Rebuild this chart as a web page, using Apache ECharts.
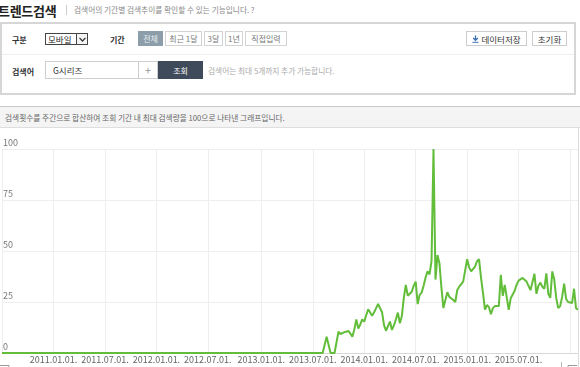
<!DOCTYPE html>
<html><head><meta charset="utf-8">
<script src="https://cdn.jsdelivr.net/npm/echarts@6/dist/echarts.min.js"></script>
<style>
html,body{margin:0;padding:0;width:580px;height:367px;overflow:hidden;background:#fff;font-family:"Noto Sans CJK KR","Noto Sans",sans-serif;}
.a{position:absolute;box-sizing:border-box;white-space:nowrap;}
.c{display:flex;align-items:center;justify-content:center;}
.l{display:flex;align-items:center;}
.lab{font-size:8px;font-weight:bold;color:#333;height:12px;}
.seg{top:31px;height:15px;border:1px solid #d3d3d3;background:#fff;font-size:8px;color:#777;}
.btn{top:31px;height:15px;border:1px solid #cdcdcd;background:#fff;font-size:8.5px;color:#333;}
</style></head><body>
<div class="a l" style="left:-2px;top:1px;height:18px;font-size:13px;font-weight:bold;color:#222;letter-spacing:-0.3px">트렌드검색</div>
<div class="a" style="left:66px;top:5px;width:1px;height:10px;background:#ccc"></div>
<div class="a l" style="left:74px;top:4px;height:11px;font-size:7.7px;color:#888">검색어의 기간별 검색추이를 확인할 수 있는 기능입니다. ?</div>

<div class="a" style="left:0;top:22px;width:576px;height:73px;border:2px solid #d6d6d6;background:#fff"></div>
<div class="a" style="left:2px;top:54px;width:572px;height:1px;background:#efefef"></div>

<div class="a l lab" style="left:12px;top:33px">구분</div>
<div class="a l" style="left:45px;top:33px;width:43px;height:12px;border:1px solid #444;font-size:8.5px;color:#222;padding-left:2px">모바일</div>
<div class="a c" style="left:76px;top:34px;width:11px;height:10px;border-left:1px solid #444;background:#f4f4f4"><svg width="7" height="5" viewBox="0 0 7 5"><polyline points="0.5,0.8 3.5,4 6.5,0.8" fill="none" stroke="#333" stroke-width="1.2"/></svg></div>
<div class="a l lab" style="left:110px;top:33px">기간</div>
<div class="a c seg" style="left:138px;width:25px;background:#8d9eab;border-color:#8d9eab;color:#e8eef3">전체</div>
<div class="a c seg" style="left:165px;width:37px">최근 1달</div>
<div class="a c seg" style="left:204px;width:19px">3달</div>
<div class="a c seg" style="left:225px;width:18px">1년</div>
<div class="a c seg" style="left:245px;width:42px">직접입력</div>
<div class="a c btn" style="left:466px;width:61px"><svg width="7" height="8" viewBox="0 0 7 8" style="margin-right:2px"><path d="M3.5 0.5 V5 M1.2 3 L3.5 5.3 L5.8 3" fill="none" stroke="#3b6fb0" stroke-width="1.3"/><path d="M0.5 7.3 H6.5" stroke="#3b6fb0" stroke-width="1"/></svg>데이터저장</div>
<div class="a c btn" style="left:532px;width:35px">초기화</div>

<div class="a l lab" style="left:12px;top:65px">검색어</div>
<div class="a l" style="left:45px;top:61px;width:94px;height:18px;border:1px solid #cfcfcf;font-size:8.5px;color:#333;padding-left:7px">G시리즈</div>
<div class="a c" style="left:138px;top:61px;width:20px;height:18px;border:1px solid #cfcfcf;font-size:11px;color:#999">+</div>
<div class="a c" style="left:158px;top:61px;width:45px;height:18px;background:#3f4a5a;font-size:8px;color:#fff">조회</div>
<div class="a l" style="left:208px;top:65px;height:11px;font-size:7.7px;color:#aaa">검색어는 최대 5개까지 추가 가능합니다.</div>

<div class="a l" style="left:0;top:106px;width:580px;height:22px;border-top:1px solid #c9c9c9;border-bottom:1px solid #dedede;background:#f4f4f4;font-size:7.7px;color:#666;padding-left:5px">검색횟수를 주간으로 합산하여 조회 기간 내 최대 검색량을 100으로 나타낸 그래프입니다.</div>

<div id="chart" class="a" style="left:0;top:128px;width:580px;height:239px"></div>
<div class="a" style="left:578px;top:128px;width:1px;height:239px;background:#dcdcdc"></div>

<script>
// first week (Monday) of the weekly series
const startWeek = '2010-06-28';
// x-axis tick labels shown under the chart
const tickLabels = ['2011.01.01.', '2011.07.01.', '2012.01.01.', '2012.07.01.', '2013.01.01.',
  '2013.07.01.', '2014.01.01.', '2014.07.01.', '2015.01.01.', '2015.07.01.'];
// y-axis ticks
const yTicks = [0, 25, 50, 75, 100];
// weekly relative search volume (G시리즈, mobile)
const searchValues = [
  0,0,0,0,0,0,0,0,0,0,0,0,0,0,0,0,0,0,0,0,0,0,0,0,0,0,
  0,0,0,0,0,0,0,0,0,0,0,0,0,0,0,0,0,0,0,0,0,0,0,0,0,0,
  0,0,0,0,0,0,0,0,0,0,0,0,0,0,0,0,0,0,0,0,0,0,0,0,0,0,
  0,0,0,0,0,0,0,0,0,0,0,0,0,0,0,0,0,0,0,0,0,0,0,0,0,0,
  0,0,0,0,0,0,0,0,0,0,0,0,0,0,0,0,0,0,0,0,0,0,0,0,0,0,
  0,0,0,0,0,0,0,0,0,0,0,0,0,0,0,0,0,0,0,0,0,0,0,0,0,0,
  0,0,0,0,0,0,0,0,
  8,8,0,0,0,0,10.5,9.3,9.8,10.2,10.5,10.8,9.5,8,11.5,16.5,12,14,16.5,15.4,
  18.5,21.4,20.6,18.3,20,22,24,23.5,20,13.7,10.9,11.3,15.4,11.3,13.5,16.5,19.8,14.6,18,27,
  33.4,28.1,28.5,30,33,35,24,28.5,29.6,33,37,40,38.5,45,100,36,48,44,32,22,
  26,29.8,27.5,27.6,26,25,30.9,32.5,32.8,35,35.5,46,42,40,39.5,42.4,45,46,37,29.5,
  21.3,23.5,22.5,19,22,23,22.7,23,38.3,28,33.4,33.8,21.1,26.8,26,30.5,33.5,35.5,35.5,36.8,
  36.3,35,34.5,30.8,30.6,38.8,29,33,34.5,32.5,31.5,39,29,27,40,36,27,22,23,27.6,
  34,26.5,25,24.4,24.5,31.5,22,21.2
];

const DAY = 86400000;
const t0 = Date.parse(startWeek + 'T00:00:00Z');
const weeks = searchValues.map((_, i) => new Date(t0 + i * 7 * DAY).toISOString().slice(0, 10));

// label of the half-year start (Jan 1 / Jul 1) contained in a week, or null
function halfYearLabel(week) {
  const t = Date.parse(week + 'T00:00:00Z');
  for (let k = 0; k < 7; k++) {
    const d = new Date(t + k * DAY);
    const m = d.getUTCMonth();
    if (d.getUTCDate() === 1 && (m === 0 || m === 6)) {
      return d.getUTCFullYear() + '.' + String(m + 1).padStart(2, '0') + '.01.';
    }
  }
  return null;
}

const chart = echarts.init(document.getElementById('chart'), null, { renderer: 'canvas' });
chart.setOption({
  animation: false,
  textStyle: { fontFamily: '"Noto Sans CJK KR", "Noto Sans", sans-serif' },
  grid: { left: 0, right: 2, top: 21, bottom: 14, containLabel: false },
  xAxis: {
    type: 'category',
    data: weeks,
    boundaryGap: false,
    axisLine: { show: true, lineStyle: { color: '#d8d8d8', width: 1 } },
    axisTick: { show: false },
    axisLabel: {
      interval: (i, v) => tickLabels.indexOf(halfYearLabel(v)) >= 0,
      formatter: v => halfYearLabel(v) || '',
      fontSize: 9, color: '#666', margin: 2
    },
    splitLine: {
      show: true,
      interval: (i, v) => halfYearLabel(v) !== null,
      lineStyle: { color: '#eeeeee', width: 1 }
    }
  },
  yAxis: {
    type: 'value',
    min: yTicks[0], max: yTicks[yTicks.length - 1], interval: 25,
    axisLine: { show: false },
    axisTick: { show: false },
    axisLabel: { inside: true, margin: 1, fontSize: 9, color: '#777', verticalAlign: 'bottom', padding: [0, 0, 2, 0] },
    splitLine: { show: true, lineStyle: { color: '#eeeeee', width: 1 } }
  },
  series: [{
    type: 'line',
    data: searchValues,
    showSymbol: false,
    symbol: 'none',
    lineStyle: { color: '#62bd3a', width: 2 },
    itemStyle: { color: '#62bd3a' },
    z: 5
  }],
  graphic: [
    { type: 'polyline', shape: { points: [[0, 237.5], [9, 237.5], [9, 239]] }, style: { stroke: '#999', lineWidth: 1, fill: null } },
    { type: 'polyline', shape: { points: [[561.5, 234], [561.5, 239]] }, style: { stroke: '#bbb', lineWidth: 1, fill: null } },
    { type: 'polyline', shape: { points: [[568, 239], [568, 237.5], [577, 237.5]] }, style: { stroke: '#999', lineWidth: 1, fill: null } }
  ]
});
</script>
</body></html>
